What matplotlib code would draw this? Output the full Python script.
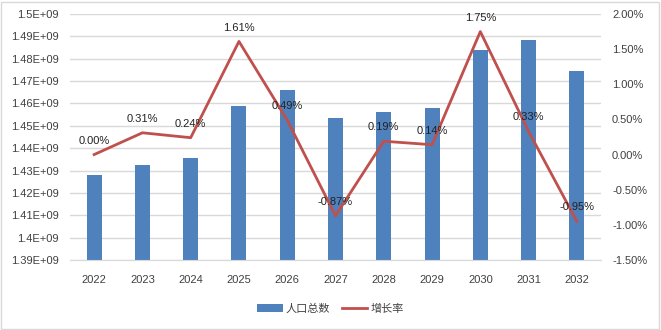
import matplotlib
matplotlib.use('Agg')
import matplotlib.pyplot as plt
from matplotlib.patches import Rectangle

plt.rcParams['font.family'] = ['Liberation Sans', 'Noto Sans CJK SC', 'DejaVu Sans']

# data
years = ["2022", "2023", "2024", "2025", "2026", "2027", "2028", "2029", "2030", "2031", "2032"]
population = [1.4280e9, 1.4324e9, 1.4358e9, 1.4590e9, 1.4661e9, 1.4534e9,
              1.4561e9, 1.4581e9, 1.4837e9, 1.4884e9, 1.4744e9]
growth = [0.00, 0.31, 0.24, 1.61, 0.49, -0.87, 0.19, 0.14, 1.75, 0.33, -0.95]  # percent

left_ticks = [1.39e9, 1.40e9, 1.41e9, 1.42e9, 1.43e9, 1.44e9, 1.45e9, 1.46e9, 1.47e9, 1.48e9, 1.49e9, 1.50e9]
left_labels = ["1.39E+09", "1.4E+09", "1.41E+09", "1.42E+09", "1.43E+09", "1.44E+09",
               "1.45E+09", "1.46E+09", "1.47E+09", "1.48E+09", "1.49E+09", "1.5E+09"]
right_ticks = [-1.5, -1.0, -0.5, 0.0, 0.5, 1.0, 1.5, 2.0]
right_labels = ["-1.50%", "-1.00%", "-0.50%", "0.00%", "0.50%", "1.00%", "1.50%", "2.00%"]

BAR_COLOR = "#4F81BD"
LINE_COLOR = "#C0504D"
GRID_COLOR = "#D9D9D9"
TEXT_COLOR = "#404040"
FS = 8

fig = plt.figure(figsize=(6.61, 3.30), dpi=100)
ax = fig.add_axes([70 / 661, 1 - 260 / 330, 531 / 661, 246 / 330])

x = range(len(years))
bars = ax.bar(x, population, width=0.31, color=BAR_COLOR, label="人口总数", zorder=2)
ax.set_ylim(1.39e9, 1.50e9)
ax.set_xlim(-0.5, len(years) - 0.5)
ax.set_yticks(left_ticks)
ax.set_yticklabels(left_labels)
ax.set_xticks(list(x))
ax.set_xticklabels(years)
ax.grid(True, axis='y', color=GRID_COLOR, linewidth=1, zorder=0)
ax.set_axisbelow(True)
for s in ax.spines.values():
    s.set_visible(False)
ax.spines['bottom'].set_visible(True)
ax.spines['bottom'].set_color(GRID_COLOR)
ax.tick_params(axis='both', length=0, labelsize=FS, labelcolor=TEXT_COLOR)
ax.tick_params(axis='x', pad=11)
ax.tick_params(axis='y', pad=8)

ax2 = ax.twinx()
line, = ax2.plot(list(x), growth, color=LINE_COLOR, linewidth=2, label="增长率", zorder=3)
ax2.set_ylim(-1.5, 2.0)
ax2.set_yticks(right_ticks)
ax2.set_yticklabels(right_labels)
for s in ax2.spines.values():
    s.set_visible(False)
ax2.tick_params(axis='y', length=0, labelsize=FS, labelcolor=TEXT_COLOR, pad=8)

# data labels above each point
for xi, g in zip(x, growth):
    ax2.annotate(f"{g:.2f}%", (xi, g), xytext=(0, 10), textcoords='offset points',
                 ha='center', va='center', fontsize=FS, color='#222222')

fig.legend(handles=[bars, line], labels=["人口总数", "增长率"], loc='center',
           bbox_to_anchor=(0.5, 1 - 309 / 330), ncol=2, frameon=False,
           fontsize=FS, handlelength=2.3, columnspacing=1.0, handletextpad=0.3,
           labelcolor=TEXT_COLOR)

# light border around the chart area
fig.patches.append(Rectangle((0.002, 0.004), 0.995, 0.99, transform=fig.transFigure,
                             fill=False, edgecolor="#D9D9D9", linewidth=1))

fig.savefig("out.png", dpi=100)
